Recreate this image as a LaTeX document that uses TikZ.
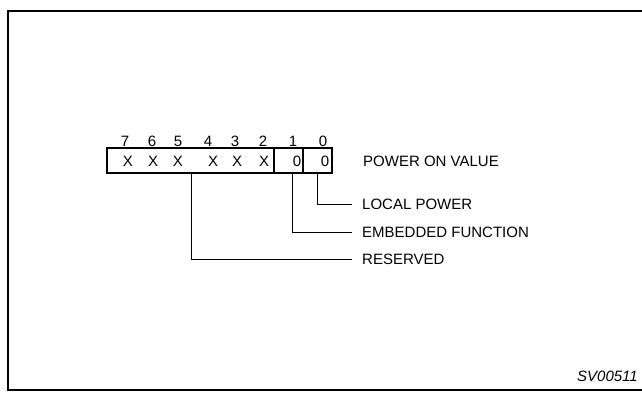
\documentclass[tikz,border=0pt]{standalone}
\usepackage{fontspec}
\setmainfont{Liberation Sans}
\usetikzlibrary{positioning}

\begin{document}
\begin{tikzpicture}[x=1pt, y=-1pt,
  lbl/.style={font=\fontsize{15}{17}\selectfont, inner sep=0pt},
  tag/.style={font=\fontsize{15}{17}\selectfont\itshape, inner sep=0pt},
  field/.style={draw, line width=1.6pt, outer sep=0pt, inner sep=0pt,
    minimum height=25pt, anchor=north west},
  leader/.style={line width=0.8pt}]
  \useasboundingbox (0,0) rectangle (642,392);
  % Frame
  \draw[line width=2pt] (7.5,11) rectangle (660,389.5);
  % Register
  \node[field, minimum width=167pt] (rsv) at (107,148) {};
  \node[field, minimum width=29pt] (emb) at (rsv.north east) {};
  \node[field, minimum width=29pt] (loc) at (emb.north east) {};
  % Bit numbers
  \foreach \b/\x in {7/125, 6/152, 5/178, 4/208, 3/235, 2/263, 1/293, 0/323} {
    \node[lbl] (n\b) at (\x,141) {\b};
  }
  % Power on values
  \foreach \b/\x in {7/128, 6/153, 5/178, 4/213, 3/237, 2/264} {
    \node[lbl] (x\b) at (\x,161) {X};
  }
  \node[lbl] (v1) at (297,161) {0};
  \node[lbl] (v0) at (325,161) {0};
  \node[lbl, anchor=west] (pov) at (363,161) {POWER ON VALUE};
  % Descriptions
  \node[lbl, anchor=west] (lpw) at (362,204) {LOCAL POWER};
  \node[lbl, anchor=west] (efn) at (362,232) {EMBEDDED FUNCTION};
  \node[lbl, anchor=west] (res) at (362,259) {RESERVED};
  \coordinate (t0) at (317,173);
  \coordinate (t1) at (292,173);
  \coordinate (t5) at (191,173);
  \draw[leader] (t0) |- ([xshift=-10pt]lpw.west);
  \draw[leader] (t1) |- ([xshift=-10pt]efn.west);
  \draw[leader] (t5) |- ([xshift=-10pt]res.west);
  % Figure tag
  \node[tag, anchor=east] (fig) at (638,376) {SV00511};
\end{tikzpicture}
\end{document}
